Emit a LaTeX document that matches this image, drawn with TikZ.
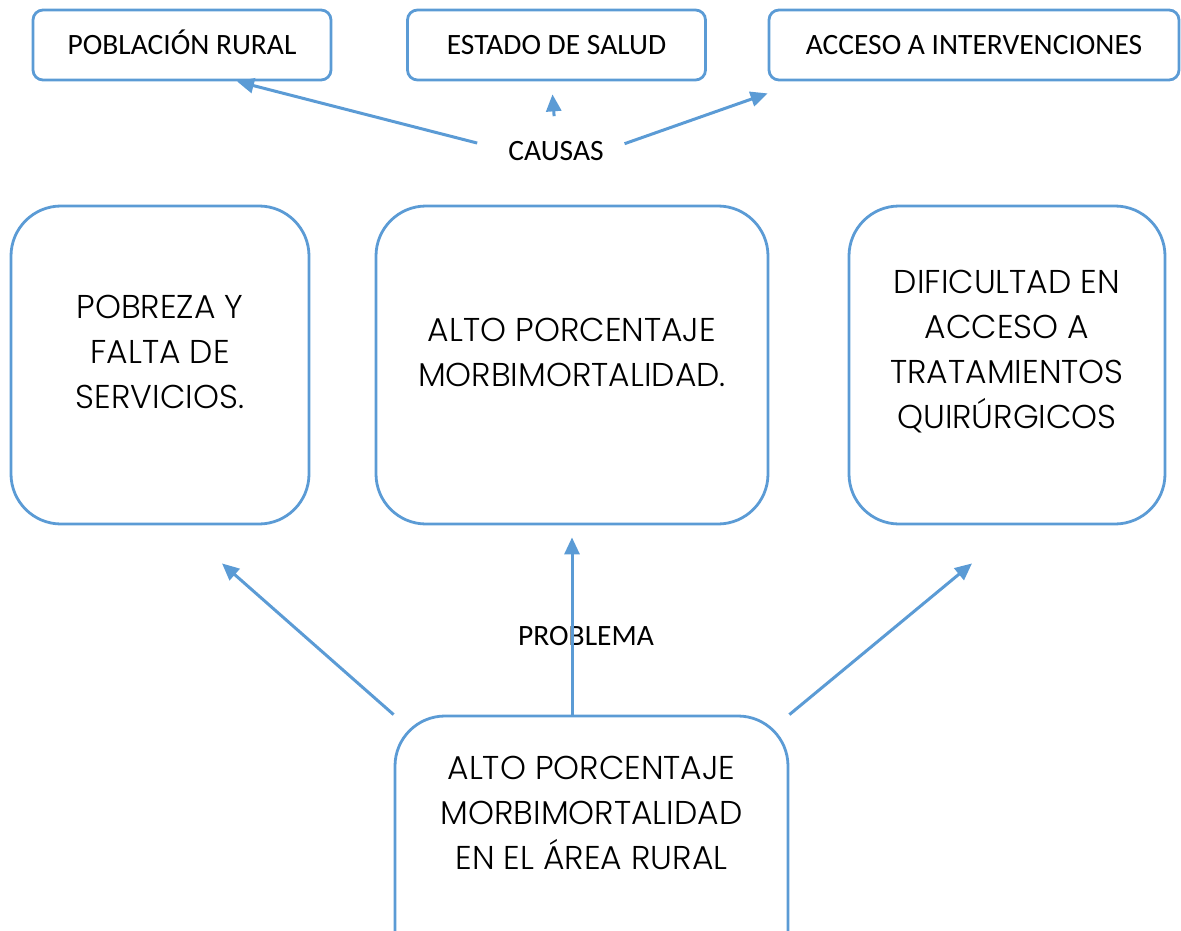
\documentclass[tikz,border=0pt]{standalone}
\usepackage{fontspec}
\setmainfont{Carlito}
\newfontfamily\gotica{Poppins Light}
\usetikzlibrary{arrows.meta}
\definecolor{azul}{HTML}{5B9BD5}
\tikzset{
  cajita/.style={draw=azul, line width=2.8pt, rounded corners=10pt,
    minimum width=298pt, minimum height=70pt, text height=25pt, text depth=6pt,
    font=\fontsize{29.5}{35}\selectfont},
  cajon/.style={draw=azul, line width=2.8pt, rounded corners=50pt, minimum height=318pt},
  grande/.style={align=center, font=\gotica\fontsize{33}{45}\selectfont},
  etiqueta/.style={inner sep=0pt, font=\fontsize{29.5}{35}\selectfont},
  flecha/.style={draw=azul, line width=3pt, -{Triangle[length=17pt,width=15pt]}},
}

\begin{document}
\begin{tikzpicture}[x=1pt, y=-1pt]
  \useasboundingbox (0,0) rectangle (1181,931);
  \clip (0,0) rectangle (1181,931);
  % causas
  \node[cajita] (poblacion) at (182,45) {POBLACIÓN RURAL};
  \node[cajita] (estado) at (556.5,45) {ESTADO DE SALUD};
  \node[cajita, minimum width=410pt] (acceso) at (974,45) {ACCESO A INTERVENCIONES};
  \node[etiqueta] (causas) at (556,151) {CAUSAS};
  %
  \node[cajon, minimum width=298pt,
    label={[grande, yshift=13pt]center:POBREZA Y\\FALTA DE\\SERVICIOS.}] (pobreza) at (160,365) {};
  \node[cajon, minimum width=392pt,
    label={[grande, yshift=13pt]center:ALTO PORCENTAJE\\MORBIMORTALIDAD.}] (altoA) at (572,365) {};
  \node[cajon, minimum width=316pt,
    label={[grande, yshift=13pt]center:DIFICULTAD EN\\ACCESO A\\TRATAMIENTOS\\QUIRÚRGICOS}] (dificultad) at (1007,365) {};
  % problema
  \node[etiqueta] (problema) at (586,636) {PROBLEMA};
  \node[cajon, minimum width=393pt,
    label={[grande, anchor=north, yshift=-38pt]north:ALTO PORCENTAJE\\MORBIMORTALIDAD\\EN EL ÁREA RURAL}] (altoB) at (591.5,875) {};
  %
  \draw[flecha, shorten <=32pt] (causas.west) -- ([xshift=55pt]poblacion.south);
  \draw[flecha, shorten <=25pt, shorten >=13pt] (causas.north) -- ([xshift=-5pt]estado.south);
  \draw[flecha, shorten <=22pt] (causas.east) -- ([yshift=-12pt]acceso.south west);
  \draw[flecha] (altoB.north west) -- ([shift={(62,38)}]pobreza.south);
  \draw[flecha, shorten >=12pt] (altoB.north -| altoA.south) -- (altoA.south);
  \draw[flecha] (altoB.north east) -- ([shift={(-35,38)}]dificultad.south);
\end{tikzpicture}
\end{document}
